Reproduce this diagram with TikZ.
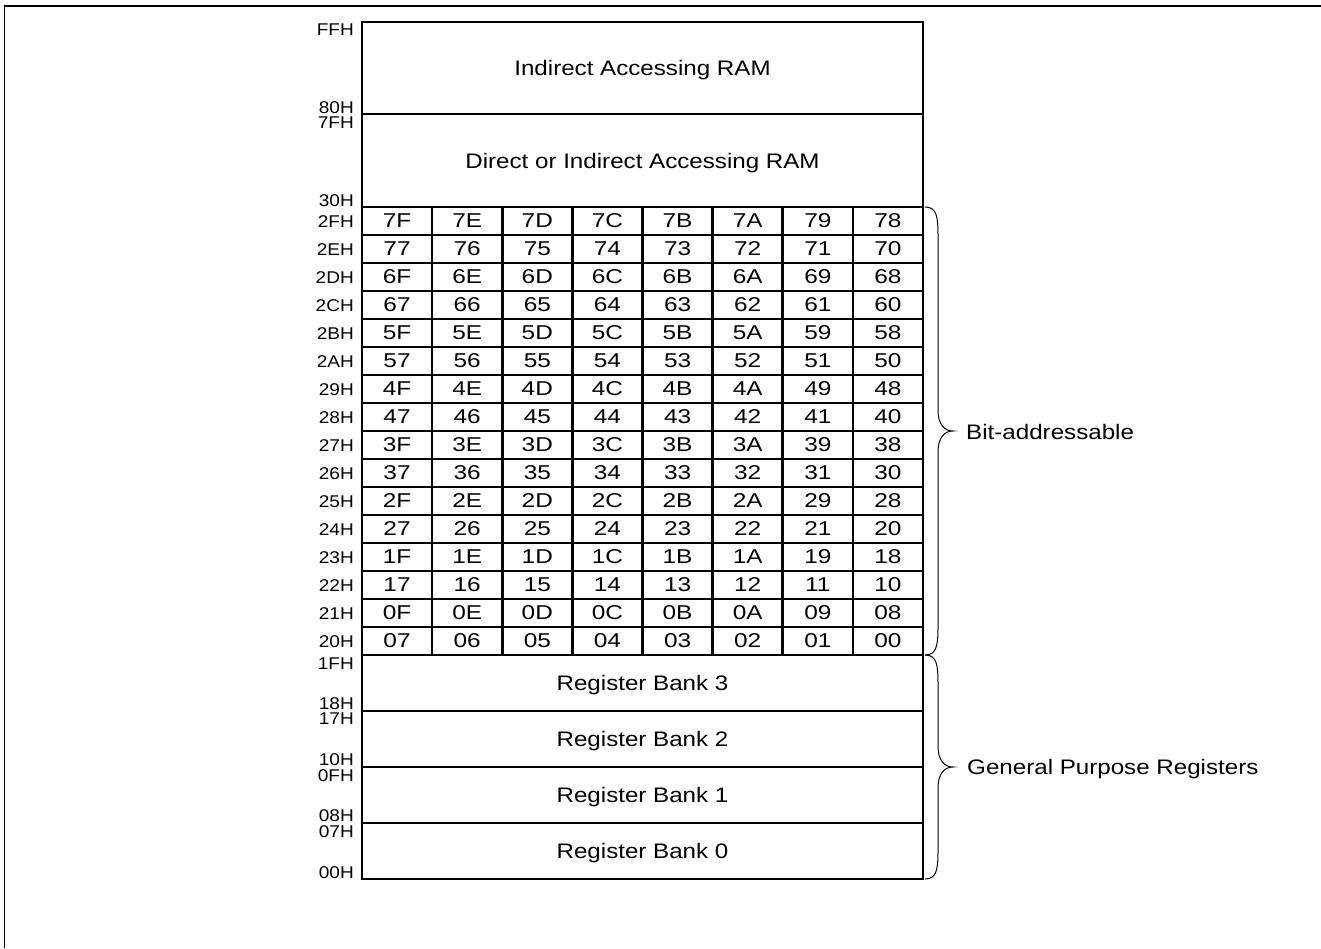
\documentclass[tikz,border=0pt]{standalone}
\usepackage{fontspec}
\setmainfont{Liberation Sans}
\newfontfamily\regfont{Liberation Sans}[FakeStretch=1.15]
\newfontfamily\cellfont{Liberation Sans}[FakeStretch=1.22]
\newfontfamily\addrfont{Liberation Sans}[FakeStretch=1.12]
\tikzset{
  region/.style={draw, line width=2.6pt, inner sep=0pt, text depth=0pt,
    minimum width=561pt, font=\regfont\fontsize{21}{21}\selectfont},
  cellbox/.style={draw, line width=2.6pt, inner sep=0pt, text depth=0pt,
    minimum width=70.125pt, minimum height=28pt, font=\cellfont\fontsize{20}{20}\selectfont},
  addr/.style={inner sep=0pt, text depth=0pt, font=\addrfont\fontsize{17}{17}\selectfont},
  bracelbl/.style={inner sep=0pt, text depth=0pt, anchor=west, font=\regfont\fontsize{21}{21}\selectfont},
  bracepath/.style={draw, line width=1pt},
  framepath/.style={draw, line width=1.3pt}
}
\begin{document}
\begin{tikzpicture}[x=1pt,y=-1pt]
\useasboundingbox (0,0) rectangle (1321,948);
% outer frame (partly cut off)
\coordinate (fr1) at (1321,6);
\coordinate (fr2) at (4.3,6);
\coordinate (fr3) at (4.3,948);
\draw[framepath] (fr1) -- (fr2) -- (fr3);

% upper regions
\node[region, minimum height=92pt] (iram) at (642.5,68) {Indirect Accessing RAM};
\node[region, minimum height=93pt] (dram) at (642.5,160.5) {Direct or Indirect Accessing RAM};

% bit-addressable grid
\foreach \r/\ad/\bits in {
  0/2F/{7F,7E,7D,7C,7B,7A,79,78},
  1/2E/{77,76,75,74,73,72,71,70},
  2/2D/{6F,6E,6D,6C,6B,6A,69,68},
  3/2C/{67,66,65,64,63,62,61,60},
  4/2B/{5F,5E,5D,5C,5B,5A,59,58},
  5/2A/{57,56,55,54,53,52,51,50},
  6/29/{4F,4E,4D,4C,4B,4A,49,48},
  7/28/{47,46,45,44,43,42,41,40},
  8/27/{3F,3E,3D,3C,3B,3A,39,38},
  9/26/{37,36,35,34,33,32,31,30},
  10/25/{2F,2E,2D,2C,2B,2A,29,28},
  11/24/{27,26,25,24,23,22,21,20},
  12/23/{1F,1E,1D,1C,1B,1A,19,18},
  13/22/{17,16,15,14,13,12,11,10},
  14/21/{0F,0E,0D,0C,0B,0A,09,08},
  15/20/{07,06,05,04,03,02,01,00}} {
  \foreach \b [count=\c from 0] in \bits {
    \node[cellbox] (c\r-\c) at ({362+70.125*(\c+0.5)},{207+28*(\r+0.5)}) {\b};
  }
  \node[addr, anchor=east] (a\ad) at (354,{207.5+28*(\r+0.5)}) {\ad H};
}

% register banks
\node[region, minimum height=56pt] (rb3) at (642.5,683) {Register Bank 3};
\node[region, minimum height=56pt] (rb2) at (642.5,739) {Register Bank 2};
\node[region, minimum height=56pt] (rb1) at (642.5,795) {Register Bank 1};
\node[region, minimum height=56pt] (rb0) at (642.5,851) {Register Bank 0};

% boundary address labels
\node[addr, anchor=north east] (aFF) at (354,23.5) {FFH};
\node[addr, anchor=south east] (a80) at (354,113.5) {80H};
\node[addr, anchor=north east] (a7F) at (354,116.5) {7FH};
\node[addr, anchor=south east] (a30) at (354,206.5) {30H};
\node[addr, anchor=north east] (a1F) at (354,657.5) {1FH};
\node[addr, anchor=south east] (a18) at (354,709.5) {18H};
\node[addr, anchor=north east] (a17) at (354,713) {17H};
\node[addr, anchor=south east] (a10) at (354,765.5) {10H};
\node[addr, anchor=north east] (a0F) at (354,769) {0FH};
\node[addr, anchor=south east] (a08) at (354,821.5) {08H};
\node[addr, anchor=north east] (a07) at (354,825) {07H};
\node[addr, anchor=south east] (a00) at (354,878.5) {00H};

% braces
\coordinate (bat) at (925,207);
\coordinate (bab) at (925,655);
\coordinate (batip) at (953,431);
\draw[bracepath] (bat) .. controls (936,207) and (938,215) .. (938,235) -- (938,410)
  .. controls (938,424) and (944,431) .. (batip)
  .. controls (944,431) and (938,438) .. (938,452) -- (938,627)
  .. controls (938,647) and (936,655) .. (bab);
\node[bracelbl] (balbl) at (966,432) {Bit-addressable};

\coordinate (gpt) at (925,655);
\coordinate (gpb) at (925,879);
\coordinate (gptip) at (953,767);
\draw[bracepath] (gpt) .. controls (936,655) and (938,663) .. (938,683) -- (938,746)
  .. controls (938,760) and (944,767) .. (gptip)
  .. controls (944,767) and (938,774) .. (938,788) -- (938,851)
  .. controls (938,871) and (936,879) .. (gpb);
\node[bracelbl] (gplbl) at (967,767) {General Purpose Registers};
\end{tikzpicture}
\end{document}
